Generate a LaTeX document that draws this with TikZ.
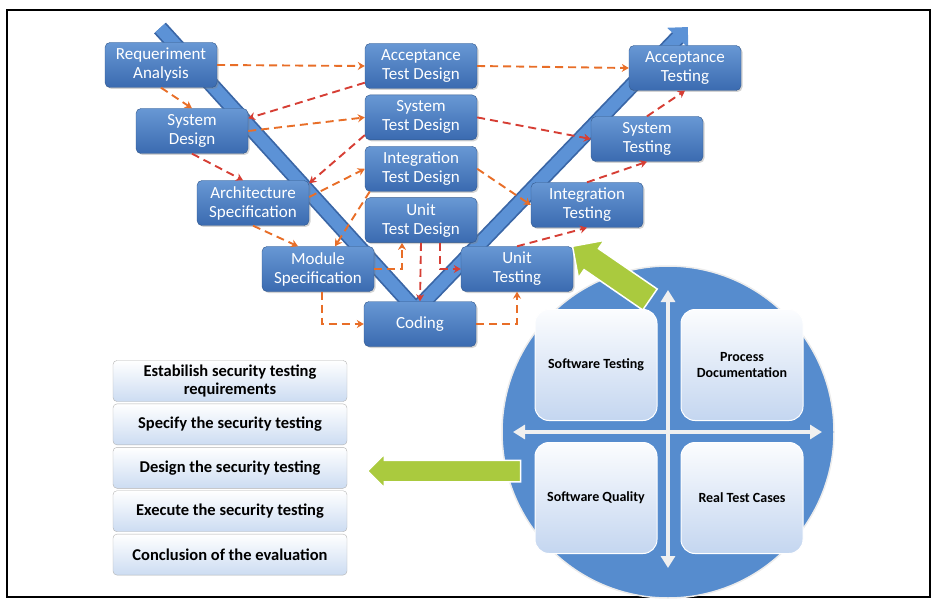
\documentclass[tikz,border=0pt]{standalone}
\usepackage{fontspec}
\setmainfont{Carlito}
\usetikzlibrary{positioning,arrows.meta,shapes.arrows,shadows}
\definecolor{vtop}{RGB}{104,152,212}
\definecolor{vbot}{RGB}{58,106,176}
\definecolor{vedge}{RGB}{50,88,140}
\definecolor{vbar}{RGB}{92,146,214}
\definecolor{vbardark}{RGB}{58,102,166}
\definecolor{dashor}{RGB}{232,110,40}
\definecolor{dashred}{RGB}{214,62,52}
\definecolor{listbot}{RGB}{204,220,242}
\definecolor{quadbot}{RGB}{196,214,240}
\definecolor{disc}{RGB}{86,140,206}
\definecolor{leaf}{RGB}{170,202,62}
\tikzset{vstep/.style={rectangle,rounded corners=5pt,draw=vedge,top color=vtop,bottom color=vbot,
	   text=white,align=center,font=\fontsize{17}{19}\selectfont,
	   minimum width=112pt,minimum height=45pt,inner sep=1pt,
	   drop shadow={opacity=0.35,shadow xshift=1.5pt,shadow yshift=-1.5pt}},
	 flow/.style={dashed,dash pattern=on 8pt off 5pt,line width=1.9pt,color=dashor,-{Stealth[length=7pt,width=8pt]}},
	 flowr/.style={flow,color=dashred},
	 liststep/.style={rectangle,rounded corners=4pt,draw=gray!60,top color=white,bottom color=listbot,
	   align=center,font=\fontsize{16.5}{18}\selectfont\bfseries,minimum width=234pt,minimum height=41pt,inner sep=1pt},
	 quad/.style={rectangle,rounded corners=14pt,draw=white,line width=1pt,top color=white!94!quadbot,bottom color=quadbot,
	   align=center,font=\fontsize{14}{16}\selectfont\bfseries,minimum width=122pt,minimum height=111pt},
	 bigarrow/.style={single arrow,draw=white,line width=1.5pt,fill=leaf,inner sep=0pt,
	   single arrow head extend=10pt,single arrow head indent=0pt},
	 axis/.style={line width=4pt,color=white!88!gray,{Triangle[width=14pt,length=12pt]}-{Triangle[width=14pt,length=12pt]}}
	 }
\begin{document}
\begin{tikzpicture}[x=1pt,y=-1pt]
	\useasboundingbox (0,0) rectangle (937,604);
	\draw[line width=1.3pt] (7,10) rectangle (930,597);
	% the V
	\draw[line width=16pt,color=vbardark,shorten >=13pt] (160,28) -- (416,310) -- (688,27);
	\draw[line width=12.5pt,color=vbar,-{Triangle[width=28pt,length=15pt]}] (160,28) -- (416,310) -- (688,27);
	% left leg
	\node[vstep] (ra) at (161,65) {Requeriment\\Analysis};
	\node[vstep] (sd) at (192,131) {System\\Design};
	\node[vstep] (as) at (253,203) {Architecture\\Specification};
	\node[vstep] (ms) at (318,269) {Module\\Specification};
	\node[vstep] (cod) at (420,324) {Coding};
	% test design column
	\node[vstep] (atd) at (421,66) {Acceptance\\Test Design};
	\node[vstep] (std) [below=6pt of atd] {System\\Test Design};
	\node[vstep] (itd) [below=6pt of std] {Integration\\Test Design};
	\node[vstep] (utd) [below=6pt of itd] {Unit\\Test Design};
	% right leg
	\node[vstep] (ut) at (517,269) {Unit\\Testing};
	\node[vstep] (it) at (587,205) {Integration\\Testing};
	\node[vstep] (st) at (647,139) {System\\Testing};
	\node[vstep] (at) at (685,68) {Acceptance\\Testing};
	% dashed links
	\draw[flow] (ra.east) -- (atd.west);
	\draw[flow] (atd.east) -- (at.west);
	\draw[flow] (ra.south) -- (sd.north);
	\draw[flowr] ([yshift=6pt]atd.south west) -- ([yshift=-10pt]sd.north east);
	\draw[flow] (sd.east) -- (std.west);
	\draw[flowr] (std.east) -- (st.west);
	\draw[flowr] (sd.south) -- ([xshift=-10pt]as.north);
	\draw[flowr] ([yshift=5pt]std.south west) -- ([yshift=-3pt]as.north east);
	\draw[flow] ([yshift=6pt]as.east) -- (itd.west);
	\draw[flow] (itd.east) -- (it.west);
	\draw[flow] (as.south) -- ([xshift=-20pt]ms.north);
	\draw[flow] ([xshift=5pt]itd.south west) -- ([xshift=17pt]ms.north);
	\draw[flow] (ms.east) -| ([xshift=-19pt]utd.south);
	\draw[flowr] (utd.south) -- (cod.north);
	\draw[flowr] ([xshift=19pt]utd.south) |- (ut.west);
	\draw[flow] ([xshift=4pt]ms.south) |- (cod.west);
	\draw[flow] (cod.east) -| (ut.south);
	\draw[flowr] (ut.north) -- (it.south);
	\draw[flowr] (it.north) -- (st.south);
	\draw[flowr] (st.north) -- (at.south);
	% quadrant disc
	\fill[disc,draw=white!85!gray,line width=1.5pt] (668,432) circle (166);
	\draw[axis] (668,290) -- (668,568);
	\draw[axis] (513,432) -- (822,432);
	\node[quad] (sq) at (596,365) {Software Testing};
	\node[quad] (pd) [right=23pt of sq] {Process\\Documentation};
	\node[quad] (qu) [below=21pt of sq] {Software Quality};
	\node[quad] (rtc) [below=21pt of pd] {Real Test Cases};
	% green pointers
	\node[bigarrow,minimum height=94pt,inner ysep=12pt,rotate=145.5] (toUT) at (616.5,276.5) {};
	\node[bigarrow,minimum height=153pt,inner ysep=10pt,single arrow head extend=6pt,rotate=180] (toList) at (449.5,471) {};
	% security testing steps
	\node[liststep] (est) at (230,381) {Estabilish security testing\\requirements};
	\node[liststep] (spec) [below=2pt of est] {Specify the security testing};
	\node[liststep] (des) [below=2pt of spec] {Design the security testing};
	\node[liststep] (exe) [below=2pt of des] {Execute the security testing};
	\node[liststep] (conc) [below=2pt of exe] {Conclusion of the evaluation};
\end{tikzpicture}
\end{document}
